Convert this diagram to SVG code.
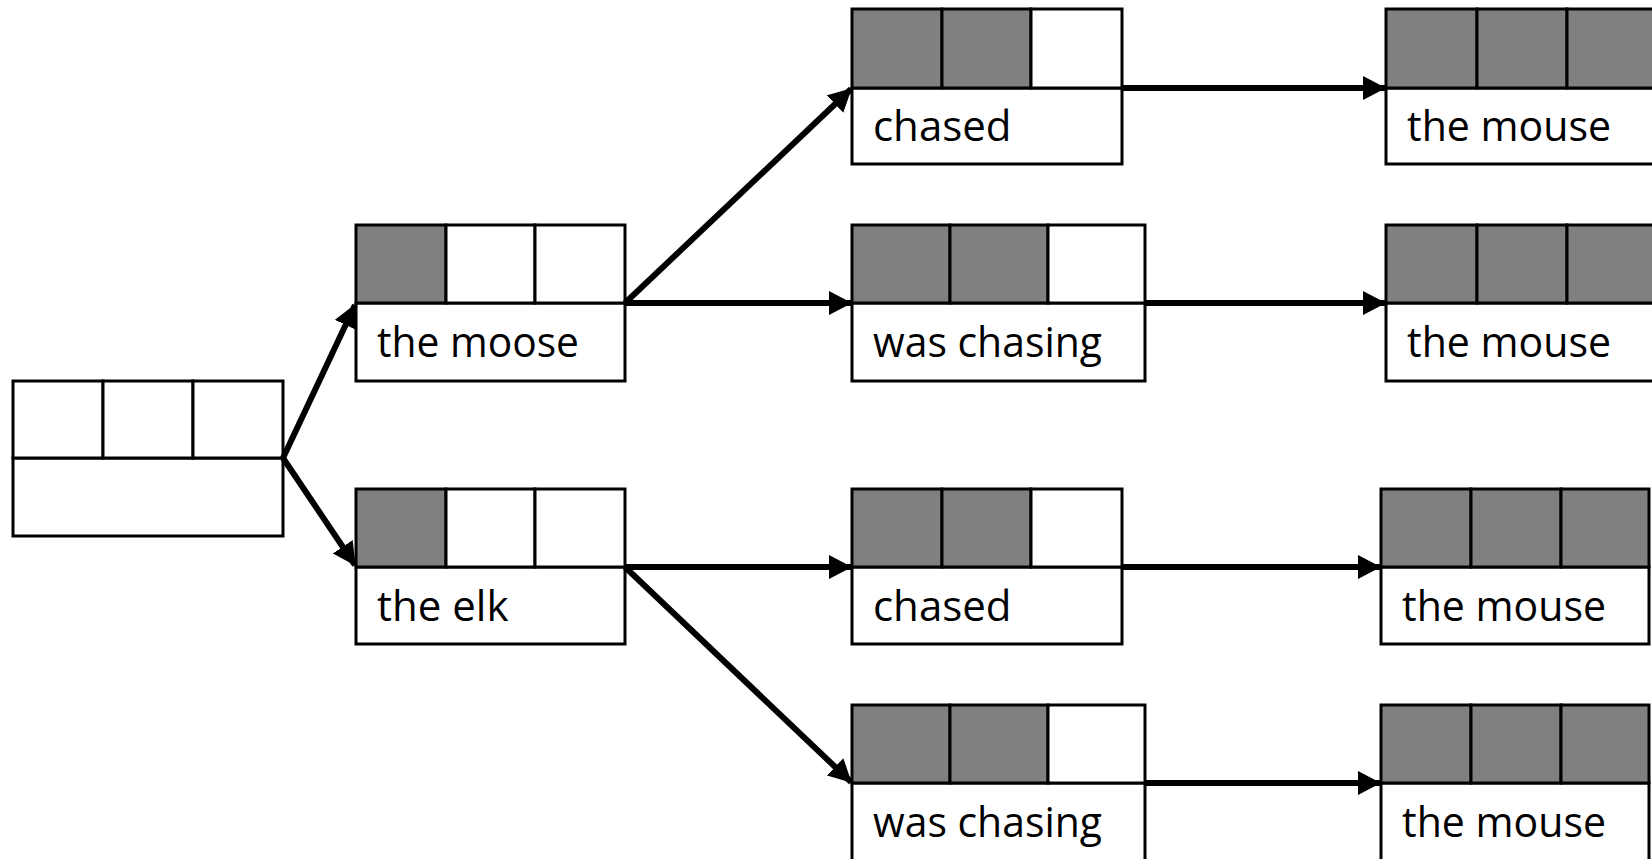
<svg xmlns="http://www.w3.org/2000/svg" width="1652" height="859" viewBox="0 0 1652 859">
<style>
.box{fill:#fff;stroke:#000;stroke-width:3}
.on{fill:#808080;stroke:#000;stroke-width:3}
.off{fill:#fff;stroke:#000;stroke-width:3}
.lbl{font-family:"Open Sans","Noto Sans",sans-serif;font-size:42px;fill:#000}
.conn{stroke:#000;stroke-width:6;fill:none;marker-end:url(#ah)}
</style>
<defs>
<marker id="ah" markerUnits="userSpaceOnUse" markerWidth="24" markerHeight="24" refX="22" refY="12" orient="auto">
<path d="M0,0 L23,12 L0,24 z" fill="#000"/>
</marker>
</defs>
<rect width="1652" height="859" fill="#fff"/>
<g id="root">
<rect class="box" x="13" y="458" width="270" height="78"/>
<rect class="off" x="13" y="381" width="90" height="77"/>
<rect class="off" x="103" y="381" width="90" height="77"/>
<rect class="off" x="193" y="381" width="90" height="77"/>
</g>
<g id="moose">
<rect class="box" x="356" y="303" width="269" height="78"/>
<rect class="on" x="356" y="225" width="90" height="78"/>
<rect class="off" x="446" y="225" width="89" height="78"/>
<rect class="off" x="535" y="225" width="90" height="78"/>
<text class="lbl" x="377" y="357" textLength="202" lengthAdjust="spacingAndGlyphs">the moose</text>
</g>
<g id="elk">
<rect class="box" x="356" y="567" width="269" height="77"/>
<rect class="on" x="356" y="489" width="90" height="78"/>
<rect class="off" x="446" y="489" width="89" height="78"/>
<rect class="off" x="535" y="489" width="90" height="78"/>
<text class="lbl" x="377" y="621">the elk</text>
</g>
<g id="chased1">
<rect class="box" x="852" y="88" width="270" height="76"/>
<rect class="on" x="852" y="9" width="90" height="79"/>
<rect class="on" x="942" y="9" width="89" height="79"/>
<rect class="off" x="1031" y="9" width="91" height="79"/>
<text class="lbl" x="873" y="141">chased</text>
</g>
<g id="chasing1">
<rect class="box" x="852" y="303" width="293" height="78"/>
<rect class="on" x="852" y="225" width="98" height="78"/>
<rect class="on" x="950" y="225" width="98" height="78"/>
<rect class="off" x="1048" y="225" width="97" height="78"/>
<text class="lbl" x="873" y="357" textLength="229" lengthAdjust="spacingAndGlyphs">was chasing</text>
</g>
<g id="chased2">
<rect class="box" x="852" y="567" width="270" height="77"/>
<rect class="on" x="852" y="489" width="90" height="78"/>
<rect class="on" x="942" y="489" width="89" height="78"/>
<rect class="off" x="1031" y="489" width="91" height="78"/>
<text class="lbl" x="873" y="621">chased</text>
</g>
<g id="chasing2">
<rect class="box" x="852" y="783" width="293" height="90"/>
<rect class="on" x="852" y="705" width="98" height="78"/>
<rect class="on" x="950" y="705" width="98" height="78"/>
<rect class="off" x="1048" y="705" width="97" height="78"/>
<text class="lbl" x="873" y="837" textLength="229" lengthAdjust="spacingAndGlyphs">was chasing</text>
</g>
<g id="mouse1">
<rect class="box" x="1386" y="88" width="270" height="76"/>
<rect class="on" x="1386" y="9" width="91" height="79"/>
<rect class="on" x="1477" y="9" width="90" height="79"/>
<rect class="on" x="1567" y="9" width="91" height="79"/>
<text class="lbl" x="1407" y="141" textLength="204" lengthAdjust="spacingAndGlyphs">the mouse</text>
</g>
<g id="mouse2">
<rect class="box" x="1386" y="303" width="270" height="78"/>
<rect class="on" x="1386" y="225" width="91" height="78"/>
<rect class="on" x="1477" y="225" width="90" height="78"/>
<rect class="on" x="1567" y="225" width="91" height="78"/>
<text class="lbl" x="1407" y="357" textLength="204" lengthAdjust="spacingAndGlyphs">the mouse</text>
</g>
<g id="mouse3">
<rect class="box" x="1381" y="567" width="268" height="77"/>
<rect class="on" x="1381" y="489" width="90" height="78"/>
<rect class="on" x="1471" y="489" width="90" height="78"/>
<rect class="on" x="1561" y="489" width="88" height="78"/>
<text class="lbl" x="1402" y="621" textLength="204" lengthAdjust="spacingAndGlyphs">the mouse</text>
</g>
<g id="mouse4">
<rect class="box" x="1381" y="783" width="268" height="90"/>
<rect class="on" x="1381" y="705" width="90" height="78"/>
<rect class="on" x="1471" y="705" width="90" height="78"/>
<rect class="on" x="1561" y="705" width="88" height="78"/>
<text class="lbl" x="1402" y="837" textLength="204" lengthAdjust="spacingAndGlyphs">the mouse</text>
</g>
<g id="connectors">
<line class="conn" x1="283" y1="458" x2="355" y2="305"/>
<line class="conn" x1="283" y1="458" x2="355" y2="565"/>
<line class="conn" x1="625" y1="303" x2="851" y2="89"/>
<line class="conn" x1="625" y1="303" x2="851" y2="303"/>
<line class="conn" x1="625" y1="567" x2="851" y2="567"/>
<line class="conn" x1="625" y1="567" x2="851" y2="782"/>
<line class="conn" x1="1123" y1="88" x2="1385" y2="88"/>
<line class="conn" x1="1146" y1="303" x2="1385" y2="303"/>
<line class="conn" x1="1123" y1="567" x2="1380" y2="567"/>
<line class="conn" x1="1146" y1="783" x2="1380" y2="783"/>
</g>
</svg>
